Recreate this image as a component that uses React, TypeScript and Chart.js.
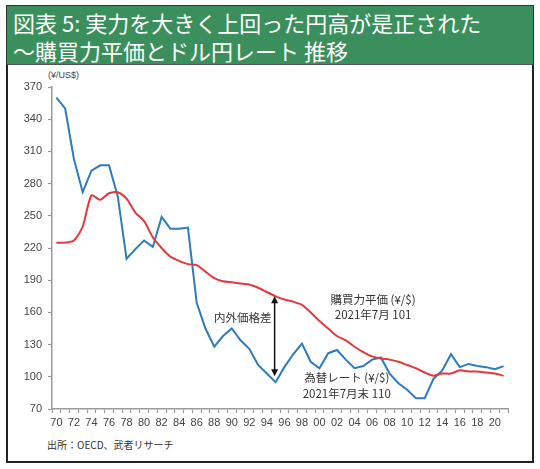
import React, { useEffect, useRef } from "react";
import { Chart, registerables } from "chart.js";

Chart.register(...registerables);

// Years 1970–2021 (category axis)
const years: number[] = [
  1970, 1971, 1972, 1973, 1974, 1975, 1976, 1977, 1978, 1979,
  1980, 1981, 1982, 1983, 1984, 1985, 1986, 1987, 1988, 1989,
  1990, 1991, 1992, 1993, 1994, 1995, 1996, 1997, 1998, 1999,
  2000, 2001, 2002, 2003, 2004, 2005, 2006, 2007, 2008, 2009,
  2010, 2011, 2012, 2013, 2014, 2015, 2016, 2017, 2018, 2019,
  2020, 2021,
];

// Purchasing power parity (¥/$) – red
const pppValues: number[] = [
  225, 225, 227, 240, 269, 265, 271, 272, 266, 253,
  245, 230, 220, 212, 208, 205, 204, 198, 192, 189,
  188, 187, 186, 183, 179, 175, 172, 170, 167, 160,
  152, 145, 138, 134, 128, 123, 119, 117, 116, 114,
  111, 108, 104, 101, 103, 103, 106, 105, 105, 104,
  103, 101,
];

// Exchange rate (¥/$) – blue
const fxValues: number[] = [
  360, 350, 303, 272, 292, 297, 297, 268, 210, 219,
  227, 221, 249, 238, 238, 239, 169, 145, 128, 138,
  145, 134, 126, 111, 103, 95, 109, 121, 131, 114,
  108, 122, 125, 116, 108, 110, 116, 118, 103, 94,
  88, 80, 80, 98, 106, 121, 109, 112, 110, 109,
  107, 110,
];

const yTicks: number[] = [70, 100, 130, 160, 190, 220, 250, 280, 310, 340, 370];

const gapYear = 1995;
const pppLabel = ["購買力平価 (¥/$)", "2021年7月 101"];
const fxLabel = ["為替レート (¥/$)", "2021年7月末 110"];
const gapLabel = "内外価格差";

const xLabels = years.map((y) => String(y % 100).padStart(2, "0"));

const annotationPlugin = {
  id: "annotations",
  afterDatasetsDraw(chart: any) {
    const { ctx, scales } = chart;
    const xs = scales.x;
    const ys = scales.y;
    const idx = years.indexOf(gapYear);
    const x = xs.getPixelForValue(idx) - 1;
    const yTop = ys.getPixelForValue(pppValues[idx]);
    const yBot = ys.getPixelForValue(fxValues[idx]) - 6;
    ctx.save();
    ctx.strokeStyle = "#111";
    ctx.fillStyle = "#111";
    ctx.lineWidth = 1.5;
    ctx.beginPath();
    ctx.moveTo(x, yTop + 6);
    ctx.lineTo(x, yBot - 6);
    ctx.stroke();
    // arrowheads
    ctx.beginPath();
    ctx.moveTo(x, yTop);
    ctx.lineTo(x - 3.5, yTop + 7);
    ctx.lineTo(x + 3.5, yTop + 7);
    ctx.closePath();
    ctx.fill();
    ctx.beginPath();
    ctx.moveTo(x, yBot);
    ctx.lineTo(x - 3.5, yBot - 7);
    ctx.lineTo(x + 3.5, yBot - 7);
    ctx.closePath();
    ctx.fill();

    ctx.font = '11.5px "Noto Sans CJK JP", sans-serif';
    ctx.fillStyle = "#333";
    ctx.textBaseline = "middle";
    ctx.textAlign = "right";
    ctx.fillText(gapLabel, x - 3, ys.getPixelForValue(155.5));

    ctx.textAlign = "center";
    const px = xs.getPixelForValue(years.indexOf(2006)) + 1;
    ctx.fillText(pppLabel[0], px, ys.getPixelForValue(171.5));
    ctx.fillText(pppLabel[1], px, ys.getPixelForValue(157.5));
    const fx = xs.getPixelForValue(years.indexOf(2003)) + 1;
    ctx.fillText(fxLabel[0], fx, ys.getPixelForValue(99));
    ctx.fillText(fxLabel[1], fx, ys.getPixelForValue(84));
    ctx.restore();
  },
};

export default function App() {
  const canvasRef = useRef<HTMLCanvasElement | null>(null);

  useEffect(() => {
    const canvas = canvasRef.current;
    if (!canvas) return;
    const tickFont = { family: '"Liberation Sans", Arial, sans-serif', size: 11 };
    const chart = new Chart(canvas, {
      type: "line",
      data: {
        labels: xLabels,
        datasets: [
          {
            data: pppValues,
            borderColor: "#e03a3e",
            borderWidth: 2,
            pointRadius: 0,
            tension: 0.25,
            fill: false,
          },
          {
            data: fxValues,
            borderColor: "#2e7bbd",
            borderWidth: 2,
            pointRadius: 0,
            tension: 0,
            fill: false,
          },
        ],
      },
      options: {
        animation: false,
        responsive: false,
        maintainAspectRatio: false,
        devicePixelRatio: 1,
        layout: { padding: { left: 0, top: 87, right: 32, bottom: 30 } },
        plugins: { legend: { display: false }, tooltip: { enabled: false } },
        scales: {
          x: {
            offset: true,
            grid: {
              offset: true,
              drawOnChartArea: false,
              drawTicks: true,
              tickLength: 4,
              tickColor: "#999",
              tickWidth: 1.2,
            },
            border: { color: "#9a9a9a", width: 1.5 },
            ticks: {
              autoSkip: false,
              maxRotation: 0,
              minRotation: 0,
              padding: 3,
              color: "#444",
              font: tickFont,
              callback: (_v: any, i: number) => (i % 2 === 0 ? xLabels[i] : ""),
            },
            afterFit: (s: any) => {
              s.height = 30;
            },
          },
          y: {
            min: yTicks[0],
            max: yTicks[yTicks.length - 1],
            afterBuildTicks: (s: any) => {
              s.ticks = yTicks.map((v) => ({ value: v }));
            },
            grid: {
              drawOnChartArea: false,
              drawTicks: true,
              tickLength: 4,
              tickColor: "#999",
              tickWidth: 1.2,
            },
            border: { color: "#9a9a9a", width: 1.5 },
            ticks: {
              padding: 6,
              color: "#444",
              font: tickFont,
            },
            afterFit: (s: any) => {
              s.width = 52;
            },
          },
        },
      },
      plugins: [annotationPlugin],
    } as any);
    return () => chart.destroy();
  }, []);

  return (
    <div
      style={{
        position: "absolute",
        left: 0,
        top: 0,
        width: 540,
        height: 469,
        background: "#fff",
        overflow: "hidden",
        fontFamily: '"Noto Sans CJK JP", sans-serif',
      }}
    >
      <div
        style={{
          position: "absolute",
          left: 6,
          top: 5,
          width: 528,
          height: 60,
          boxSizing: "border-box",
          background: "#3a8f5c",
          border: "1px solid #2b3a30",
          color: "#fff",
          fontSize: 22,
          lineHeight: "28px",
          paddingLeft: 6,
          paddingTop: 2,
          whiteSpace: "nowrap",
        }}
      >
        <div>図表 5: 実力を大きく上回った円高が是正された</div>
        <div>～購買力平価とドル円レート 推移</div>
      </div>
      <div
        style={{
          position: "absolute",
          left: 6,
          top: 64,
          width: 528,
          height: 399,
          boxSizing: "border-box",
          border: "2px solid #222",
          borderTop: "1px solid #555",
        }}
      />
      <div
        style={{
          position: "absolute",
          left: 48,
          top: 69,
          fontSize: 9,
          lineHeight: "12px",
          color: "#444",
          fontFamily: '"Liberation Sans", Arial, sans-serif',
        }}
      >
        (¥/US$)
      </div>
      <div
        style={{
          position: "absolute",
          left: 47,
          top: 437,
          fontSize: 10,
          lineHeight: "15px",
          color: "#333",
        }}
      >
        出所：OECD、武者リサーチ
      </div>
      <canvas
        ref={canvasRef}
        width={540}
        height={469}
        style={{ position: "absolute", left: 0, top: 0, width: 540, height: 469 }}
      />
    </div>
  );
}
